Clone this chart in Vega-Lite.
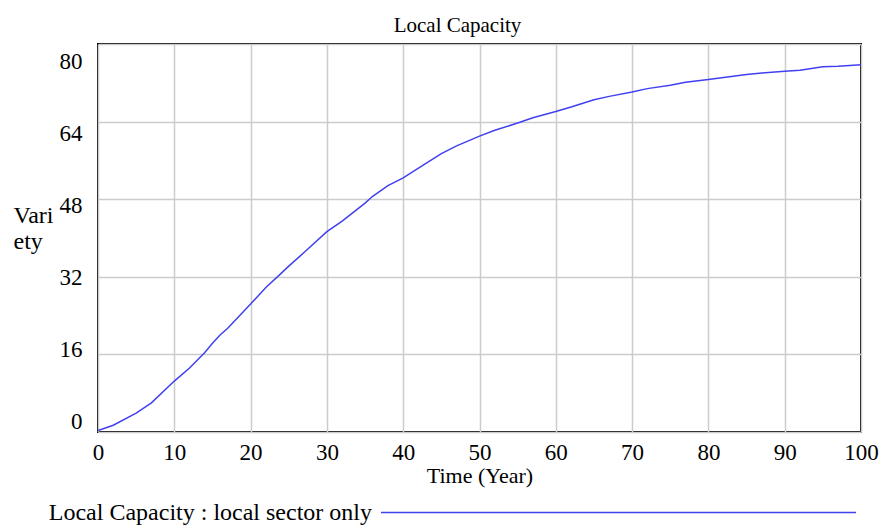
{
  "$schema": "https://vega.github.io/schema/vega-lite/v6.json",
  "autosize": "none",
  "width": 763,
  "height": 388,
  "padding": {"left": 98, "top": 44, "right": 19, "bottom": 93},
  "background": "white",
  "config": {
    "font": "Liberation Serif",
    "view": {"stroke": "black", "strokeWidth": 2}
  },
  "title": {
    "text": "Local Capacity",
    "font": "Liberation Serif",
    "fontSize": 21,
    "fontWeight": "normal",
    "color": "black",
    "anchor": "middle",
    "dx": -22,
    "offset": 8
  },
  "data": {
    "values": [
      {"t": 0, "v": 0.3, "s": "local sector only"},
      {"t": 2, "v": 1.4, "s": "local sector only"},
      {"t": 5, "v": 3.9, "s": "local sector only"},
      {"t": 7, "v": 6.0, "s": "local sector only"},
      {"t": 10, "v": 10.5, "s": "local sector only"},
      {"t": 12, "v": 13.2, "s": "local sector only"},
      {"t": 14, "v": 16.4, "s": "local sector only"},
      {"t": 15, "v": 18.3, "s": "local sector only"},
      {"t": 16, "v": 20.0, "s": "local sector only"},
      {"t": 17, "v": 21.4, "s": "local sector only"},
      {"t": 20, "v": 26.4, "s": "local sector only"},
      {"t": 22, "v": 29.8, "s": "local sector only"},
      {"t": 24, "v": 32.7, "s": "local sector only"},
      {"t": 25, "v": 34.2, "s": "local sector only"},
      {"t": 27, "v": 37.0, "s": "local sector only"},
      {"t": 30, "v": 41.3, "s": "local sector only"},
      {"t": 32, "v": 43.5, "s": "local sector only"},
      {"t": 35, "v": 47.2, "s": "local sector only"},
      {"t": 36, "v": 48.6, "s": "local sector only"},
      {"t": 38, "v": 50.8, "s": "local sector only"},
      {"t": 40, "v": 52.4, "s": "local sector only"},
      {"t": 42, "v": 54.4, "s": "local sector only"},
      {"t": 45, "v": 57.4, "s": "local sector only"},
      {"t": 47, "v": 59.0, "s": "local sector only"},
      {"t": 50, "v": 61.0, "s": "local sector only"},
      {"t": 52, "v": 62.2, "s": "local sector only"},
      {"t": 55, "v": 63.7, "s": "local sector only"},
      {"t": 57, "v": 64.8, "s": "local sector only"},
      {"t": 60, "v": 66.1, "s": "local sector only"},
      {"t": 62, "v": 67.0, "s": "local sector only"},
      {"t": 65, "v": 68.5, "s": "local sector only"},
      {"t": 67, "v": 69.2, "s": "local sector only"},
      {"t": 70, "v": 70.1, "s": "local sector only"},
      {"t": 72, "v": 70.8, "s": "local sector only"},
      {"t": 75, "v": 71.5, "s": "local sector only"},
      {"t": 77, "v": 72.1, "s": "local sector only"},
      {"t": 80, "v": 72.7, "s": "local sector only"},
      {"t": 82, "v": 73.1, "s": "local sector only"},
      {"t": 85, "v": 73.7, "s": "local sector only"},
      {"t": 87, "v": 74.0, "s": "local sector only"},
      {"t": 90, "v": 74.4, "s": "local sector only"},
      {"t": 92, "v": 74.6, "s": "local sector only"},
      {"t": 95, "v": 75.3, "s": "local sector only"},
      {"t": 97, "v": 75.4, "s": "local sector only"},
      {"t": 100, "v": 75.7, "s": "local sector only"}
    ]
  },
  "mark": {"type": "line", "strokeWidth": 1.5, "clip": true},
  "encoding": {
    "x": {
      "field": "t",
      "type": "quantitative",
      "scale": {"domain": [0, 100], "nice": false, "zero": false},
      "axis": {
        "title": "Time (Year)",
        "values": [0, 10, 20, 30, 40, 50, 60, 70, 80, 90, 100],
        "gridColor": "#cccccc",
        "gridWidth": 1.5,
        "domain": false,
        "ticks": false,
        "labelFont": "Liberation Serif",
        "labelFontSize": 23,
        "labelColor": "black",
        "labelPadding": 9,
        "labelFlush": false,
        "titleFont": "Liberation Serif",
        "titleFontSize": 22,
        "titleFontWeight": "normal",
        "titleColor": "black",
        "titlePadding": 1
      }
    },
    "y": {
      "field": "v",
      "type": "quantitative",
      "scale": {"domain": [0, 80], "nice": false, "zero": false},
      "axis": {
        "title": ["Vari", "ety"],
        "values": [0, 16, 32, 48, 64, 80],
        "gridColor": "#cccccc",
        "gridWidth": 1.5,
        "domain": false,
        "ticks": false,
        "labelFont": "Liberation Serif",
        "labelFontSize": 23,
        "labelColor": "black",
        "labelPadding": 16,
        "labelBaseline": "middle",
        "labelOffset": {"expr": "-11 + datum.value * 0.35"},
        "labelFlush": false,
        "titleFont": "Liberation Serif",
        "titleFontSize": 24,
        "titleFontWeight": "normal",
        "titleColor": "black",
        "titleAngle": 0,
        "titleAlign": "left",
        "titleBaseline": "alphabetic",
        "titleX": -85,
        "titleY": 178,
        "titleLineHeight": 26
      }
    },
    "color": {
      "field": "s",
      "type": "nominal",
      "scale": {"range": ["#4040f0"]},
      "legend": {
        "orient": "none",
        "legendX": 282,
        "legendY": 230,
        "padding": 0,
        "title": null,
        "symbolType": "stroke",
        "symbolSize": 225625,
        "symbolStrokeWidth": 1.5,
        "labelExpr": "'Local Capacity : ' + datum.label",
        "labelAlign": "right",
        "labelOffset": -485,
        "labelFont": "Liberation Serif",
        "labelFontSize": 24,
        "labelColor": "black",
        "labelLimit": 0
      }
    }
  }
}
